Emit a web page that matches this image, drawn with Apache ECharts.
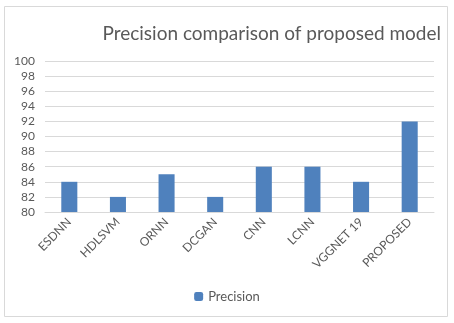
<!DOCTYPE html>
<html><head><meta charset="utf-8">
<script src="https://cdn.jsdelivr.net/npm/echarts@6/dist/echarts.min.js"></script>
<style>html,body{margin:0;padding:0;background:#fff}#c{width:454px;height:323px}</style>
</head><body><div id="c"></div>
<script>
const categories = ['ESDNN','HDLSVM','ORNN','DCGAN','CNN','LCNN','VGGNET 19','PROPOSED'];
const precision = [84, 82, 85, 82, 86, 86, 84, 92];
const yMin = 80, yMax = 100, yStep = 2;
const chart = echarts.init(document.getElementById('c'));
const font = 'Lato, "Open Sans", sans-serif';
chart.setOption({
  animation: false,
  textStyle: {fontFamily: font},
  graphic: [{type:'rect', shape:{x:4.5,y:6.5,width:443,height:310}, style:{fill:'none', stroke:'#d9d9d9', lineWidth:1}, silent:true}],
  title: {text: 'Precision comparison of proposed model', right: 8, top: 19,
    textStyle: {fontFamily: font, fontSize: 19, fontWeight: 'normal', color: '#595959'}},
  legend: {bottom: 15, left: 'center', itemWidth: 9, itemHeight: 9, itemGap: 4,
    textStyle: {fontFamily: font, fontSize: 13, color: '#595959'}, data: ['Precision']},
  grid: {left: 45, right: 20, top: 61, bottom: 111},
  xAxis: {type: 'category', data: categories,
    axisLine: {lineStyle: {color: '#d9d9d9'}}, axisTick: {show: false},
    axisLabel: {rotate: 45, fontSize: 12, color: '#595959', interval: 0, margin: 8, fontFamily: font}},
  yAxis: {type: 'value', min: yMin, max: yMax, interval: yStep,
    axisLine: {show: false}, axisTick: {show: false},
    splitLine: {lineStyle: {color: '#d9d9d9'}},
    axisLabel: {fontSize: 12, color: '#595959', margin: 10, fontFamily: font}},
  series: [{name: 'Precision', type: 'bar', data: precision, barWidth: '33%',
    itemStyle: {color: '#4f81bd'}}]
});
</script></body></html>
